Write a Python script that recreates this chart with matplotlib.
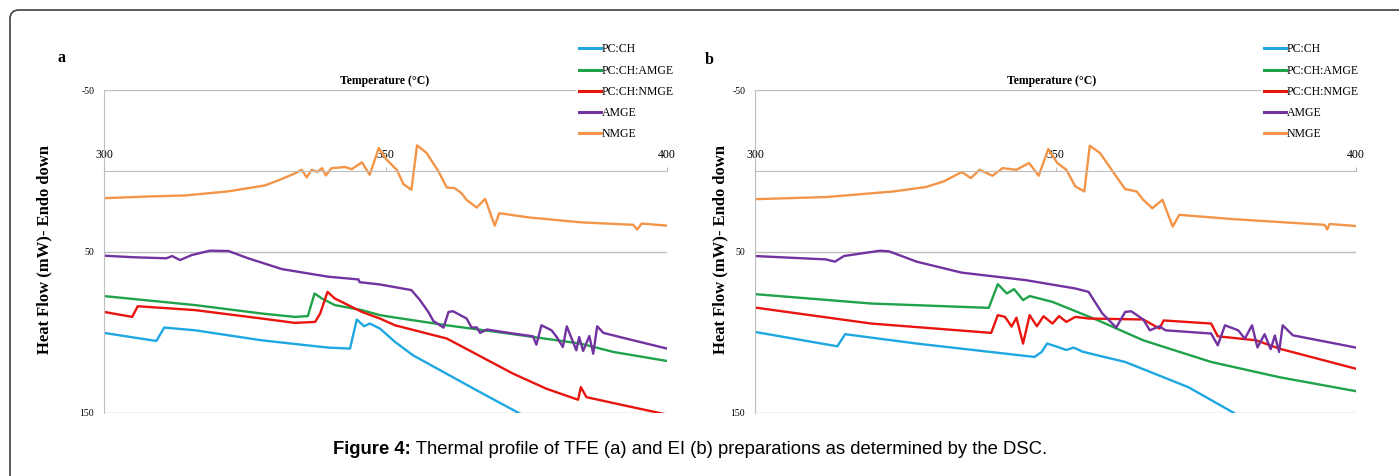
import matplotlib
matplotlib.use('Agg')
import matplotlib.pyplot as plt
from matplotlib.patches import FancyBboxPatch
from matplotlib.transforms import IdentityTransform

plt.rcParams['axes.unicode_minus'] = False

# ---- data (temperature in C, heat flow in mW) ----
labels = ['PC:CH', 'PC:CH:AMGE', 'PC:CH:NMGE', 'AMGE', 'NMGE']
colors = ['#1FA7E1', '#1FA24A', '#E8140E', '#7232A0', '#F29548']

# panel a (TFE)
a_pcch_t = [300, 309.3, 310.7, 316.2, 328, 339.8, 343.7, 344.9, 346.2, 347.2, 349, 351.7, 354.9, 366.8, 374.2]
a_pcch_v = [100.4, 105.4, 97.1, 98.8, 105, 109.5, 110.1, 92.1, 96.3, 94.6, 97.7, 106, 114.3, 137.1, 151]
a_amge_t = [300, 316.2, 328, 333.9, 336.2, 337.4, 338.7, 341, 345.8, 349, 351.7, 360.9, 372.7, 384.6, 390.5, 400]
a_amge_v = [77.6, 83.2, 88.4, 90.5, 90, 76, 79.1, 83.2, 86.3, 89.4, 90.9, 95.7, 101.2, 107, 112.2, 117.8]
a_nmge_t = [300, 305, 306, 316.2, 328, 333.9, 337.5, 338.4, 339.7, 341, 345.8, 349, 351.7, 360.9, 372.7,
            378.6, 384.2, 384.7, 385.7, 391.6, 400]
a_nmge_v = [87.4, 90.5, 83.9, 86.3, 91.5, 94.2, 93.6, 88.4, 75, 79.1, 87.4, 91.5, 95.7, 103.9, 125.7,
            135, 141.8, 134, 140.2, 144.7, 151]
a_am_t = [300, 305.5, 311.1, 312.1, 313.5, 315.6, 318.8, 322.1, 325.6, 331.6, 339.8, 345.2, 345.4, 349,
          354.6, 356.1, 357.6, 358.5, 360.3, 361.2, 362, 364.4, 365.3, 366.2, 366.8, 368, 372.7, 376.2,
          376.8, 377.7, 379.5, 380.4, 381.5, 382.2, 383.3, 383.9, 384.4, 385.1, 386.2, 386.9, 387.6,
          388.7, 394, 400]
a_am_v = [52.6, 53.6, 54.2, 52.8, 55.3, 52.2, 49.5, 49.7, 54.2, 60.9, 65.6, 67.3, 69, 70.4,
          73.9, 80, 87.4, 93, 97.1, 87.4, 87, 91.5, 97.1, 97, 100.4, 98.3, 100.8, 102.5,
          107.7, 95.7, 98.8, 102.9, 109.1, 96.3, 106, 111.2, 102.9, 111.6, 102.3, 113.3, 96.3,
          100.4, 105, 110.1]
a_nm_t = [300, 307.3, 314.4, 322, 328.6, 331.5, 334, 335.1, 336, 336.9, 337.9, 338.7, 339.4, 340.4,
          342.8, 344, 345.8, 347.2, 348.8, 350.2, 352, 353.2, 354.6, 355.6, 357.3, 359.4, 360.9,
          362.3, 363.5, 364.4, 366.2, 367.7, 369.4, 370.2, 375.7, 384.6, 394, 394.7, 395.5, 400]
a_nm_v = [17, 16, 15.3, 12.8, 9.1, 5.2, 1.5, -0.6, 4.1, -0.6, 0.8, -1.6, 2.9, -1.6,
          -2.3, -1, -5.2, 2.5, -14.1, -6.8, -0.6, 8.3, 11.8, -15.7, -11, 0.4, 10.4,
          10.8, 13.9, 18, 22.8, 17.4, 34, 26.3, 29, 31.9, 33.5, 36.4, 32.7, 34]

# panel b (EI)
b_pcch_t = [300, 313.7, 315, 326.9, 346.5, 347.7, 348.6, 350.3, 351.8, 353, 354.5, 357, 361.6, 372.1, 379.7]
b_pcch_v = [99.8, 108.7, 101.2, 107, 115.3, 112.2, 107, 109, 111, 109.5, 112, 114.3, 118.4, 134, 150]
b_amge_t = [300, 319.3, 338.9, 340.4, 341.9, 343.1, 344.6, 345.7, 349.5, 357, 364.6, 375.9, 387.2, 400]
b_amge_v = [76.4, 82.2, 84.9, 70.2, 76, 73.3, 80.1, 77.6, 81.2, 92.5, 105, 118.4, 127.8, 136.5]
b_nmge_t = [300, 319.3, 339.3, 340.4, 341.6, 342.7, 343.5, 344.6, 345.7, 346.9, 348, 349.5, 350.6,
            351.8, 353.3, 355.5, 364.6, 367.3, 368, 375.9, 377, 383.4, 387.2, 400]
b_nmge_v = [84.7, 94.6, 100.4, 89.4, 90.5, 96.5, 91, 107, 89.4, 96.3, 90.1, 94.6, 90,
            93.6, 90.5, 91.5, 92.1, 97.7, 92.7, 94.6, 102.5, 105, 110.1, 122.6]
b_am_t = [300, 311.8, 313.3, 314.8, 320.8, 322.3, 326.9, 334.4, 345, 353.3, 355.5, 357.8, 360.1,
          361.6, 362.6, 364.6, 365.7, 367.3, 368.3, 375.9, 377, 378.2, 380.4, 381.5, 382.7, 383.6,
          384.8, 385.8, 386.5, 387.2, 387.8, 389.5, 400]
b_am_v = [52.8, 54.9, 56.3, 52.8, 49.5, 49.9, 56.3, 63.1, 67.7, 72.9, 75, 88.4, 97.1,
          87.4, 87, 92.1, 98.8, 96.3, 98.8, 100.8, 108.1, 95.7, 98.8, 104, 95.7, 109.4,
          101.2, 110.5, 102, 112.2, 95.7, 101.9, 109.5]
b_nm_t = [300, 311.8, 323.1, 328.4, 331.4, 334.4, 335.9, 337.4, 339.5, 341.2, 343.5, 345.6, 347.2,
          348.8, 350.3, 351.8, 353.3, 354.8, 355.7, 357.4, 360.1, 361.6, 363.5, 364.6, 366.1,
          367.8, 369.5, 370.6, 379.7, 394.8, 395.2, 395.6, 400]
b_nm_v = [17.6, 16.3, 12.8, 10.1, 6.6, 0.8, 4.5, -0.6, 3.1, -1.6, -0.6, -4.8, 3.1,
          -13.5, -4.8, -0.6, 9.7, 12.8, -15.5, -11, 3.5, 11.4, 12.8, 18, 23.2,
          18, 34.6, 27.3, 30, 33.5, 36.4, 33, 34.2]

panel_a = [(a_pcch_t, a_pcch_v), (a_amge_t, a_amge_v), (a_nmge_t, a_nmge_v), (a_am_t, a_am_v), (a_nm_t, a_nm_v)]
panel_b = [(b_pcch_t, b_pcch_v), (b_amge_t, b_amge_v), (b_nmge_t, b_nmge_v), (b_am_t, b_am_v), (b_nm_t, b_nm_v)]

W, H = 1399, 476
fig = plt.figure(figsize=(W / 100, H / 100), dpi=100)
serif = 'Liberation Serif'
grid_c = '#BEBEBE'


def px(x0, x1, y0, y1):
    return [x0 / W, 1 - y1 / H, (x1 - x0) / W, (y1 - y0) / H]


def panel(rect, series, letter, letter_xy, leg_xy, title_x, ylab_x):
    ax = fig.add_axes(px(*rect))
    for (t, v), c, lab in zip(series, colors, labels):
        ax.plot(t, v, color=c, lw=1.7, label=lab, solid_joinstyle='round')
    ax.set_xlim(300, 400)
    ax.set_ylim(150, -50)
    ax.set_yticks([-50, 50, 150])
    ax.set_xticks([300, 350, 400])
    ax.grid(axis='y', color=grid_c, lw=1.0)
    for s in ['right', 'bottom']:
        ax.spines[s].set_visible(False)
    ax.spines['left'].set_color(grid_c)
    ax.spines['top'].set_position(('data', 0))
    ax.spines['top'].set_color(grid_c)
    ax.xaxis.set_ticks_position('top')
    ax.tick_params(axis='x', length=3, color=grid_c, pad=4, labelsize=8.5)
    ax.tick_params(axis='y', length=0, pad=7, labelsize=7)
    for lbl in ax.get_xticklabels() + ax.get_yticklabels():
        lbl.set_fontfamily(serif)
    leg = ax.legend(loc='upper left', bbox_to_anchor=(leg_xy[0] / W, 1 - leg_xy[1] / H),
                    bbox_transform=fig.transFigure, frameon=True, facecolor='white',
                    edgecolor='none', framealpha=1, fancybox=False,
                    prop={'family': serif, 'size': 8.5}, handlelength=1.8,
                    handletextpad=0.1, labelspacing=0.78, borderpad=0.3)
    for ln in leg.get_lines():
        ln.set_linewidth(2.2)
    fig.text(letter_xy[0] / W, 1 - letter_xy[1] / H, letter, family=serif,
             weight='bold', size=11.5, ha='center', va='center')
    fig.text(title_x / W, 1 - 81 / H, 'Temperature (°C)', family=serif,
             weight='bold', size=8.5, ha='center', va='center')
    fig.text(ylab_x / W, 1 - 250 / H, 'Heat Flow (mW)- Endo down', family=serif,
             weight='bold', size=12, ha='center', va='center', rotation=90)
    return ax


panel((104, 667, 90, 413), panel_a, 'a', (62, 58), (570, 34), 385, 44)
panel((755, 1356, 90, 413), panel_b, 'b', (709, 60), (1255, 34), 1052, 720)

# caption
r = fig.canvas.get_renderer()
cap1 = fig.text(0, 1 - 450 / H, 'Figure 4:', family='Liberation Sans', weight='bold',
                size=13.3, va='center')
cap2 = fig.text(0, 1 - 450 / H, ' Thermal profile of TFE (a) and EI (b) preparations as determined by the DSC.',
                family='Liberation Sans', size=13.3, va='center')
w1 = cap1.get_window_extent(r).width
w2 = cap2.get_window_extent(r).width
x0 = 690 - (w1 + w2) / 2
cap1.set_x(x0 / W)
cap2.set_x((x0 + w1) / W)

# frame: only the top and left edges show, with a rounded corner
fig.add_artist(FancyBboxPatch((10, -100), 1600, H - 10 + 100,
                              boxstyle='round,pad=0,rounding_size=9',
                              transform=IdentityTransform(), fill=False,
                              ec='#4D4D4D', lw=1.3))

fig.savefig('out.png', dpi=100)
